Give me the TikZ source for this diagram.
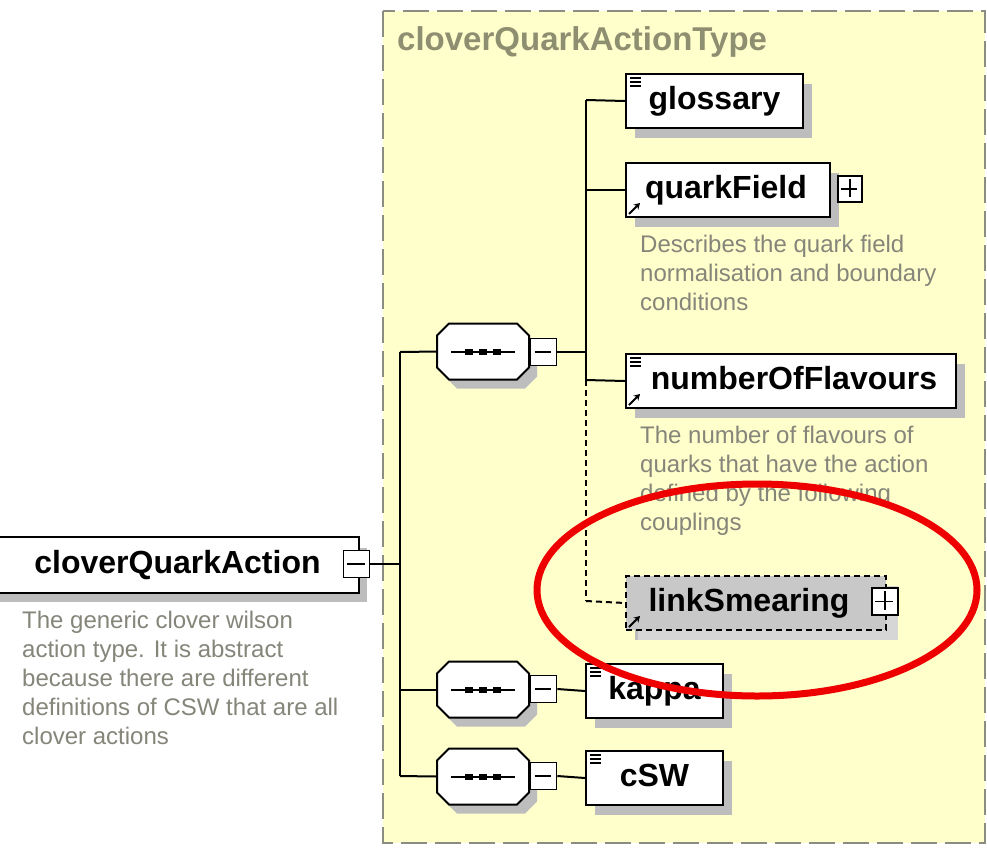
\documentclass[tikz,border=0pt]{standalone}
\usepackage{fontspec}
\setmainfont{Liberation Sans}
\usetikzlibrary{shadows,arrows.meta}
\definecolor{bgyellow}{HTML}{FFFFCC}
\definecolor{framegray}{HTML}{8C8C80}
\definecolor{titlegray}{HTML}{8E8E70}
\definecolor{docgray}{HTML}{85857A}
\definecolor{shadowgray}{HTML}{BDBDBD}
\definecolor{linkgray}{HTML}{C8C8C8}
\definecolor{markred}{HTML}{EE0000}
\begin{document}
\begin{tikzpicture}[x=1pt,y=-1pt,
  elem/.style={draw=black, line width=2pt, fill=white, minimum height=54, inner sep=0,
    font=\bfseries\fontsize{32}{32}\selectfont, text height=23, text depth=6, anchor=north west,
    drop shadow={shadow xshift=9pt, shadow yshift=-10pt, fill=shadowgray, opacity=1}},
  doc/.style={font=\fontsize{24}{29}\selectfont, text=docgray, align=left, anchor=north west, inner sep=0},
  pmbox/.style={draw=black, line width=1.6pt, fill=white, minimum width=26, minimum height=27, inner sep=0},
  seqanchor/.style={minimum width=92, minimum height=56, inner sep=0},
  conn/.style={draw=black, line width=2pt},
  optconn/.style={draw=black, line width=2pt, dash pattern=on 6pt off 4pt},
  icon/.style={line width=1.6pt}
]
\useasboundingbox (0,0) rectangle (987,847);
\fill[white] (0,0) rectangle (987,847);
% type frame
\draw[fill=bgyellow, draw=framegray, line width=2pt, dash pattern=on 26pt off 8pt] (383,11) rectangle (985,843);
\node[anchor=west, inner sep=0, text=titlegray, font=\bfseries\fontsize{33}{33}\selectfont] (title) at (397,42) {cloverQuarkActionType};

% main element
\node[elem, minimum width=367, draw=none] (main) at (-10,537) {\hspace*{6pt}cloverQuarkAction};
\draw[line width=2pt] (main.north west) -- (main.north east) -- (main.south east) -- (main.south west);
\node[pmbox] (mainpm) at (356.5,564) {};
\draw[icon] (mainpm.west) ++(4,0) -- ++(18,0);
\node[doc] (maindoc) at (22,611) {The generic clover wilson\\action type. It is abstract\\because there are different\\definitions of CSW that are all\\clover actions};

% sequence compositors
\node[seqanchor] (seqA) at (483,351.5) {};
\node[seqanchor] (seqB) at (483,689.5) {};
\node[seqanchor] (seqC) at (483,776.5) {};
\foreach \s in {seqA,seqB,seqC}{
  \fill[shadowgray] ([shift={(8,9)}]\s.center) ++(-34,-28) -- ++(68,0) -- ++(12,12) -- ++(0,32) -- ++(-12,12) -- ++(-68,0) -- ++(-12,-12) -- ++(0,-32) -- cycle;
  \draw[line width=2pt, fill=white] (\s.center) ++(-34,-28) -- ++(68,0) -- ++(12,12) -- ++(0,32) -- ++(-12,12) -- ++(-68,0) -- ++(-12,-12) -- ++(0,-32) -- cycle;
  \draw[line width=2pt] (\s.center) ++(-32,0) -- ++(64,0);
  \foreach \dx in {-14,0,14} \fill (\s.center) ++(\dx-4,-3) rectangle ++(8,6);
}
\node[pmbox] (seqApm) at (543.5,352) {};
\node[pmbox] (seqBpm) at (543.5,689) {};
\node[pmbox] (seqCpm) at (543.5,776) {};
\foreach \s in {seqApm,seqBpm,seqCpm}{
  \draw[icon] (\s.west) ++(5,0) -- ++(16,0);
}

% child elements
\node[elem, minimum width=177] (glossary) at (625,73) {glossary};
\node[elem, minimum width=204] (quarkField) at (625,162) {quarkField\hspace*{4pt}};
\node[pmbox, minimum width=24, minimum height=26] (qfpm) at (850,189) {};
\draw[icon] (qfpm.west) ++(4,0) -- ++(16,0);
\draw[icon] (qfpm.north) ++(0,4) -- ++(0,18);
\node[doc] (qfdoc) at (640,235) {Describes the quark field\\normalisation and boundary\\conditions};
\node[elem, minimum width=330] (nof) at (625,353) {\hspace*{6pt}numberOfFlavours};
\node[doc] (nofdoc) at (640,426) {The number of flavours of\\quarks that have the action\\defined by the following\\couplings};
\node[elem, minimum width=260, fill=linkgray, dash pattern=on 6pt off 4pt,
  drop shadow={shadow xshift=12pt, shadow yshift=-10pt, fill=linkgray!75, opacity=1}] (link) at (625,575) {linkSmearing\hspace*{14pt}};
\node[pmbox, minimum width=26, minimum height=27] (linkpm) at (885,601.5) {};
\draw[icon] (linkpm.west) ++(4,0) -- ++(18,0);
\draw[icon] (linkpm.north) ++(0,4) -- ++(0,19);
\node[elem, minimum width=137] (kappa) at (585,663) {kappa};
\node[elem, minimum width=137] (cSW) at (585,750) {cSW};

% icons
\foreach \b in {glossary,nof,kappa,cSW}{
  \foreach \dy in {5,9,13} \draw[icon] (\b.north west) ++(5,\dy) -- ++(11,0);
}
\foreach \b in {quarkField,nof,link}{
  \draw[line width=2pt, -{Stealth[length=6pt,width=7pt]}] (\b.south west) ++(4,-4) -- ++(11,-11);
}

% connectors
\coordinate (jA) at (400,564);
\coordinate (jAtop) at (400,352);
\coordinate (jAbot) at (400,776);
\draw[conn] (mainpm.east) -- (jA);
\draw[conn] (jAtop) -- (jAbot);
\draw[conn] (jAtop) -- (seqA.west);
\draw[conn] (seqB.west -| jA) -- (seqB.west);
\draw[conn] (jAbot) -- (seqC.west);
\coordinate (jB) at (586,352);
\coordinate (jBtop) at (586,100);
\coordinate (jBnof) at (586,380);
\coordinate (jBbot) at (586,601);
\draw[conn] (seqApm.east) -- (jB);
\draw[conn] (jBtop) -- (jBnof);
\draw[optconn] (jBnof) -- (jBbot);
\draw[conn] (jBtop) -- (glossary.west);
\draw[conn] (quarkField.west -| jB) -- (quarkField.west);
\draw[conn] (jBnof) -- (nof.west);
\draw[optconn] (jBbot) -- (link.west);
\draw[conn] (seqBpm.east) -- (kappa.west);
\draw[conn] (seqCpm.east) -- (cSW.west);

% highlight
\draw[markred, line width=7pt] (757,590) ellipse [x radius=220, y radius=106];
\end{tikzpicture}
\end{document}
